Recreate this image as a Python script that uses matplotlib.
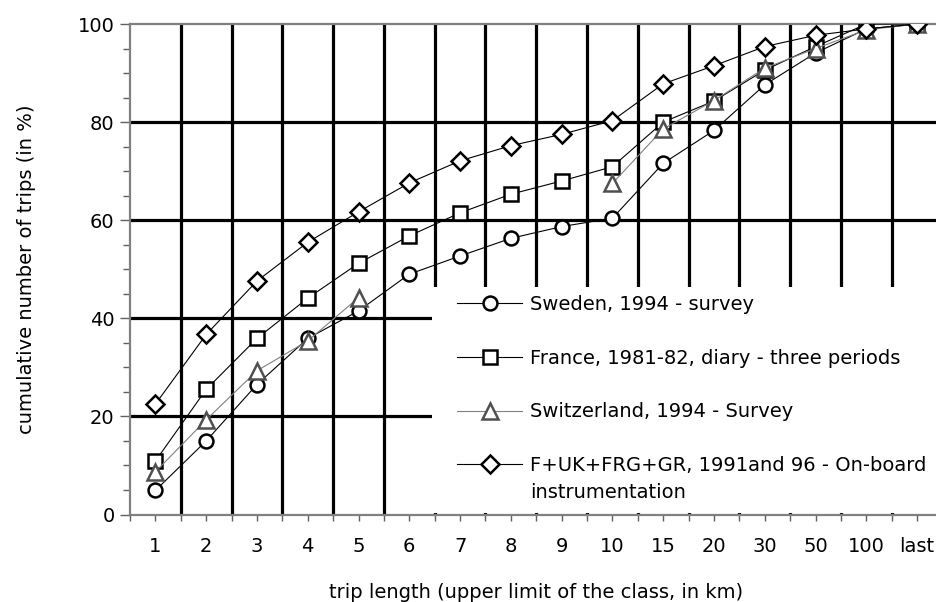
import numpy as np
import matplotlib
matplotlib.use("Agg")
import matplotlib.pyplot as plt
from matplotlib.patches import Rectangle

plt.rcParams['font.family'] = ['DejaVu Sans']

# categories: upper limit of the class (km)
classes = ['1', '2', '3', '4', '5', '6', '7', '8', '9', '10',
           '15', '20', '30', '50', '100', 'last']

# cumulative share of trips (%)
sweden = [4.9, 15.0, 26.5, 35.9, 41.5, 49.0, 52.7, 56.3, 58.7, 60.4,
          71.6, 78.3, 87.6, 94.1, 99.0, 100]
france = [10.9, 25.5, 35.9, 44.1, 51.2, 56.8, 61.5, 65.3, 68.0, 70.9,
          80.0, 84.3, 90.6, 95.4, 100, 100]
switzerland = [8.7, 19.3, 29.3, 35.4, 44.2, np.nan, np.nan, np.nan, np.nan, 67.5,
               78.6, 84.4, 91.0, 95.0, 98.8, 100]
onboard = [22.5, 36.7, 47.6, 55.5, 61.7, 67.6, 72.1, 75.2, 77.5, 80.3,
           87.8, 91.5, 95.4, 97.7, 99.0, 100]

labels = ['Sweden, 1994 - survey',
          'France, 1981-82, diary - three periods',
          'Switzerland, 1994 - Survey',
          'F+UK+FRG+GR, 1991and 96 - On-board']

W, H = 936, 602
fig = plt.figure(figsize=(W / 100, H / 100), dpi=100)
ax = fig.add_axes([130 / W, (H - 514.5) / H, 812.5 / W, 490.5 / H])

x = np.arange(len(classes))
fs = 14

ax.plot(x, sweden, color='black', lw=0.8, marker='o', ms=10, mfc='white',
        mec='black', mew=1.8, label=labels[0], zorder=3)
ax.plot(x, france, color='black', lw=0.8, marker='s', ms=10.5, mfc='white',
        mec='black', mew=1.8, label=labels[1], zorder=3)
ax.plot(x, switzerland, color='#808080', lw=0.8, marker='^', ms=11, mfc='white',
        mec='#505050', mew=1.8, label=labels[2], zorder=3)
ax.plot(x, onboard, color='black', lw=0.8, marker='D', ms=9, mfc='white',
        mec='black', mew=1.8, label=labels[3], zorder=3)

ax.set_xlim(-0.5, len(classes) - 0.5)
ax.set_ylim(0, 100)

# category boundaries carry the grid, centres carry the labels
ax.set_xticks(np.arange(-0.5, len(classes)))
ax.set_xticklabels([])
ax.set_xticks(x, minor=True)
ax.set_xticklabels(classes, minor=True, fontsize=fs)
ax.set_yticks(np.arange(0, 101, 20))
ax.set_yticks(np.arange(0, 101, 5), minor=True)
ax.tick_params(axis='y', which='major', labelsize=fs, length=7, width=1,
               color='#606060', pad=4)
ax.tick_params(axis='y', which='minor', length=5, width=1, color='#606060')
ax.tick_params(axis='x', which='both', length=4, width=1, color='#606060', pad=12)

ax.set_axisbelow(True)
ax.grid(True, which='major', color='black', lw=2.3)
xt = ax.xaxis.get_major_ticks()
yt = ax.yaxis.get_major_ticks()
for t in (xt[0], xt[-1], yt[0], yt[-1]):
    t.gridline.set_visible(False)

for s in ax.spines.values():
    s.set_color('#808080')
    s.set_linewidth(1.6)

# white legend panel hiding the grid
ax.add_patch(Rectangle((0.372, 0.004), 0.7, 0.46, transform=ax.transAxes,
                       facecolor='white', edgecolor='none', zorder=1))

leg = ax.legend(loc='upper left', bbox_to_anchor=(0.403, 0.447), frameon=False,
                fontsize=fs, handlelength=3.3, handletextpad=0.45,
                labelspacing=1.78, borderaxespad=0, borderpad=0)
ax.annotate('instrumentation', xy=(0, 0), xycoords=leg.texts[3],
            xytext=(0, -6), textcoords='offset points', va='top', ha='left',
            fontsize=fs, zorder=6)

ax.set_xlabel('trip length (upper limit of the class, in km)', fontsize=fs,
              labelpad=20)
ax.set_ylabel('cumulative number of trips (in %)', fontsize=fs, labelpad=30)

fig.savefig('out.png', dpi=100)
